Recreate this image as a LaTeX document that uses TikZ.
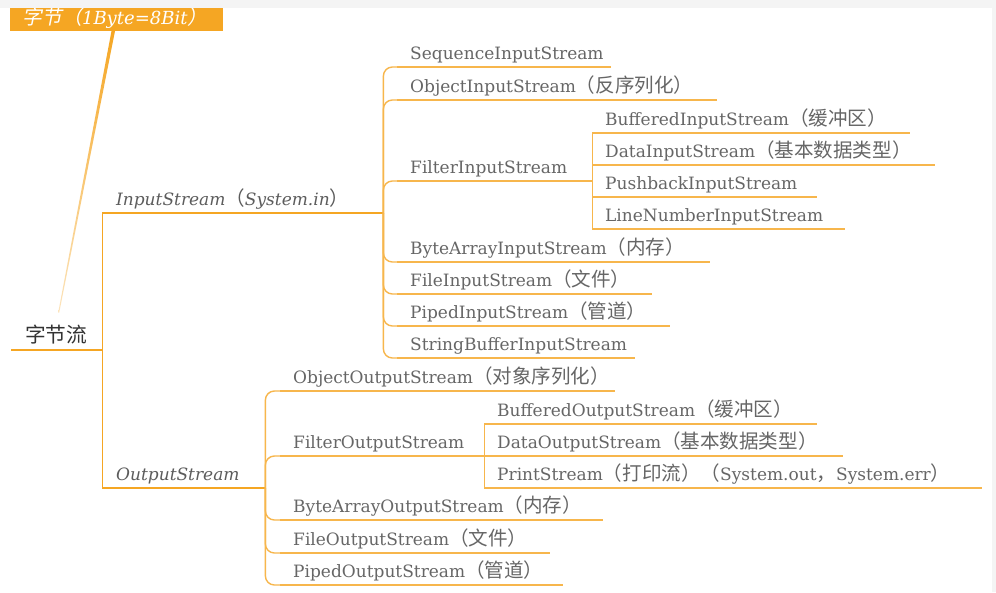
\documentclass[tikz,border=0pt]{standalone}
\usepackage{fontspec}
\setmainfont{DejaVu Serif}
\newfontfamily\zhfont{Noto Sans CJK SC}[Scale=1.15]
\newfontfamily\zhslant{Noto Sans CJK SC}[FakeSlant=0.2, Scale=1.1]
\newcommand\zh[1]{{\zhfont #1}}
\usetikzlibrary{calc}
\definecolor{brorange}{HTML}{F5A623}
\definecolor{lnorange}{HTML}{F7B64C}
\definecolor{txtgray}{HTML}{666666}
\definecolor{rootgray}{HTML}{333333}
\definecolor{bandgray}{HTML}{F4F4F4}
\tikzset{
  trunk/.style={draw=brorange, line width=1.8pt},
  branch/.style={draw=lnorange, line width=1.4pt},
  base/.style={anchor=south west, inner xsep=0pt, inner ysep=0pt,
    text height=14pt, text depth=7pt, text=txtgray, font=\fontsize{17}{20}\selectfont},
  leaf/.style={base,
    execute at begin node={\hbox to #1\bgroup\hskip13pt},
    execute at end node={\hss\egroup},
    append after command={(\tikzlastnode.south west) edge[branch] (\tikzlastnode.south east)}},
  topleaf/.style={base,
    execute at begin node={\hbox to #1\bgroup\hskip14pt},
    execute at end node={\hss\egroup},
    append after command={(\tikzlastnode.south west) edge[trunk] (\tikzlastnode.south east)}},
}
\begin{document}
\begin{tikzpicture}[x=1pt,y=-1pt]
\useasboundingbox (0,0) rectangle (996,592);
\fill[white] (0,0) rectangle (996,592);

% top box
\fill[brorange] (10,4) rectangle (223,31);
\node[anchor=base, inner sep=0pt, text=white, font=\fontsize{18}{22}\selectfont\itshape] (top) at (115,24)
  {\zhslant 字节（\rmfamily\itshape 1Byte=8Bit\zhslant ）};
\coordinate (topfoot) at (116.5,31);

% root and first level
\node[topleaf=91pt, text=rootgray] (root) at (11,350) {\zh{\fontsize{18}{20}\selectfont 字节流}};
\node[topleaf=281pt, font=\fontsize{17}{20}\selectfont\itshape, text=txtgray!90!black] (ins) at (102,213) {InputStream\zh{（}System.in\zh{）}};
\node[topleaf=163pt, font=\fontsize{17}{20}\selectfont\itshape, text=txtgray!90!black] (outs) at (102,488) {OutputStream};

% relation line from top box to root
\shade[top color=brorange, bottom color=brorange!30]
  ($(topfoot)+(-5,0)$) -- ($(topfoot)+(-1.5,0)$) -- ($(root.north)+(2.5,-16)$) -- ($(root.north)+(1.5,-16)$) -- cycle;

% InputStream children
\node[leaf=214pt] (seq)  at (397,67)  {SequenceInputStream};
\node[leaf=320pt] (oin)  at (397,100) {ObjectInputStream\zh{（反序列化）}};
\node[leaf=195pt] (fin)  at (397,181) {FilterInputStream};
\node[leaf=318pt] (bin)  at (592,133) {BufferedInputStream\zh{（缓冲区）}};
\node[leaf=343pt] (din)  at (592,165) {DataInputStream\zh{（基本数据类型）}};
\node[leaf=225pt] (pin)  at (592,197) {PushbackInputStream};
\node[leaf=253pt] (lin)  at (592,229) {LineNumberInputStream};
\node[leaf=313pt] (bain) at (397,262) {ByteArrayInputStream\zh{（内存）}};
\node[leaf=255pt] (fiin) at (397,294) {FileInputStream\zh{（文件）}};
\node[leaf=273pt] (piin) at (397,326) {PipedInputStream\zh{（管道）}};
\node[leaf=238pt] (sbin) at (397,358) {StringBufferInputStream};

% OutputStream children
\node[leaf=335pt] (oout)  at (280,391) {ObjectOutputStream\zh{（对象序列化）}};
\node[leaf=204pt] (fout)  at (280,456) {FilterOutputStream};
\node[leaf=333pt] (bout)  at (484,424) {BufferedOutputStream\zh{（缓冲区）}};
\node[leaf=359pt] (dout)  at (484,456) {DataOutputStream\zh{（基本数据类型）}};
\node[leaf=498pt] (ps)    at (484,488) {PrintStream\zh{（打印流）（}System.out\zh{，}System.err\zh{）}};
\node[leaf=323pt] (baout) at (280,520) {ByteArrayOutputStream\zh{（内存）}};
\node[leaf=270pt] (fiout) at (280,553) {FileOutputStream\zh{（文件）}};
\node[leaf=283pt] (piout) at (280,585) {PipedOutputStream\zh{（管道）}};

% connectors
\draw[trunk] (root.south east) |- (ins.south west);
\draw[trunk] (root.south east) |- (outs.south west);
\foreach \c in {seq,oin,fin,bain,fiin,piin,sbin}
  \draw[branch, rounded corners=9pt] (ins.south east) |- (\c.south west);
\foreach \c in {bin,din,pin,lin}
  \draw[branch] (fin.south east) |- (\c.south west);
\foreach \c in {oout,fout,baout,fiout,piout}
  \draw[branch, rounded corners=9pt] (outs.south east) |- (\c.south west);
\foreach \c in {bout,dout,ps}
  \draw[branch] (fout.south east) |- (\c.south west);

% frame bands
\fill[bandgray] (0,0) rectangle (996,8);
\fill[bandgray] (992,0) rectangle (996,592);
\end{tikzpicture}
\end{document}
